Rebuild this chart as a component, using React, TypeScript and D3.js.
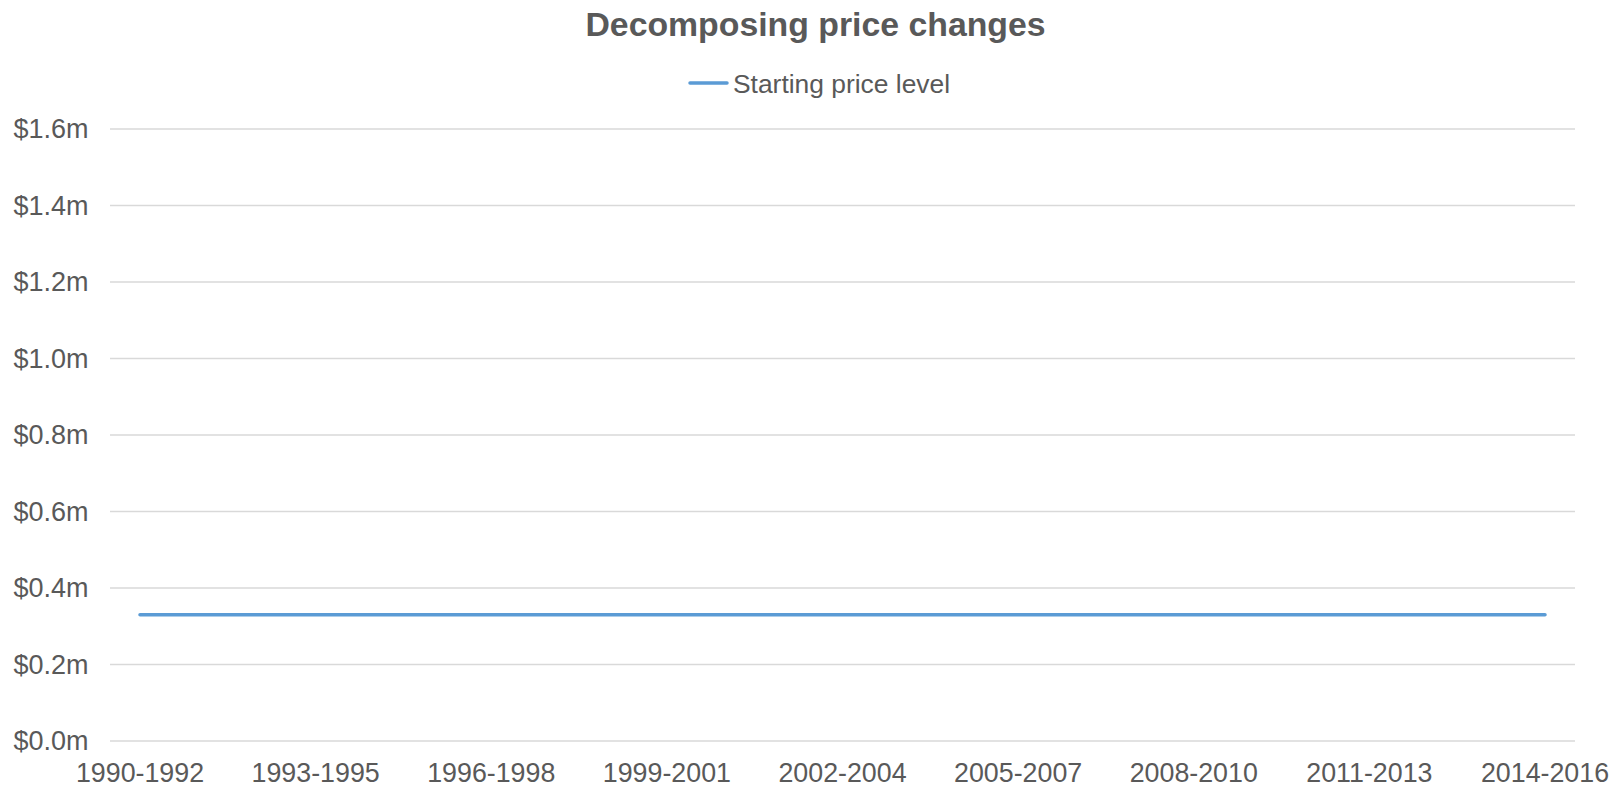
import React from "react";
import * as d3 from "d3";

// Three-year periods on the category axis
const periods: string[] = [
  "1990-1992",
  "1993-1995",
  "1996-1998",
  "1999-2001",
  "2002-2004",
  "2005-2007",
  "2008-2010",
  "2011-2013",
  "2014-2016",
];

// Starting price level, in millions of dollars
const startingPrice: number[] = [0.33, 0.33, 0.33, 0.33, 0.33, 0.33, 0.33, 0.33, 0.33];

// Value-axis ticks, in millions
const yTicks: number[] = [0, 0.2, 0.4, 0.6, 0.8, 1.0, 1.2, 1.4, 1.6];

const seriesName = "Starting price level";
const title = "Decomposing price changes";

const W = 1614;
const H = 788;
const FONT = "'Liberation Sans', Arial, Helvetica, sans-serif";
const TEXT = "#595959";
const GRID = "#d9d9d9";
const LINE = "#5b9bd5";

export default function App() {
  const plotLeft = 110;
  const plotRight = 1575;
  const plotTop = 129;
  const plotBottom = 741;

  const x = d3.scalePoint<string>().domain(periods).range([140, 1545]);
  const y = d3.scaleLinear().domain([0, 1.6]).range([plotBottom, plotTop]);

  const fmt = (v: number) => `$${d3.format(".1f")(v)}m`;

  const line = d3
    .line<number>()
    .x((_, i) => x(periods[i]) as number)
    .y((d) => y(d));

  return (
    <svg
      width={W}
      height={H}
      viewBox={`0 0 ${W} ${H}`}
      style={{ position: "fixed", left: 0, top: 0, background: "#fff", display: "block" }}
      fontFamily={FONT}
    >
      <rect x={0} y={0} width={W} height={H} fill="#fff" />

      <text x={815.5} y={36} textAnchor="middle" fontSize={33.8} fontWeight="bold" fill={TEXT}>
        {title}
      </text>

      <g>
        <line x1={690} x2={727} y1={83} y2={83} stroke={LINE} strokeWidth={3.5} strokeLinecap="round" />
        <text x={733} y={93} fontSize={26.4} fill={TEXT}>
          {seriesName}
        </text>
      </g>

      <g>
        {yTicks.map((t) => (
          <g key={t}>
            <line x1={plotLeft} x2={plotRight} y1={y(t)} y2={y(t)} stroke={GRID} strokeWidth={1.4} />
            <text x={88.5} y={y(t)} dy="0.35em" textAnchor="end" fontSize={27} fill={TEXT}>
              {fmt(t)}
            </text>
          </g>
        ))}
      </g>

      <g>
        {periods.map((p) => (
          <text key={p} x={x(p)} y={782} textAnchor="middle" fontSize={26.8} fill={TEXT}>
            {p}
          </text>
        ))}
      </g>

      <path
        d={line(startingPrice) ?? ""}
        fill="none"
        stroke={LINE}
        strokeWidth={3.5}
        strokeLinecap="round"
        strokeLinejoin="round"
      />
    </svg>
  );
}
